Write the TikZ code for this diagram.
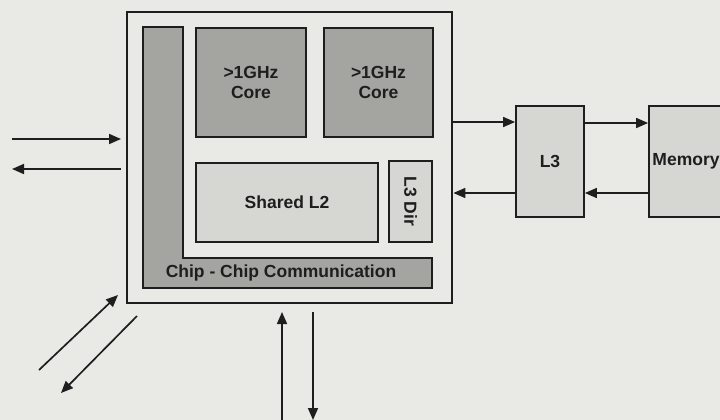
\documentclass[tikz,border=0pt]{standalone}
\usepackage{fontspec}
\setmainfont{Liberation Sans}
\usetikzlibrary{arrows.meta}
\definecolor{bg}{RGB}{233,233,229}
\definecolor{darkfill}{RGB}{164,164,160}
\definecolor{lightfill}{RGB}{214,214,210}
\definecolor{ink}{RGB}{30,30,30}
\begin{document}
\begin{tikzpicture}[x=1pt,y=-1pt,
  every node/.style={font=\fontsize{17.5}{20}\selectfont\bfseries, text=ink},
  box/.style={draw=ink, line width=1.8pt, inner sep=0pt, align=center},
  darkbox/.style={box, fill=darkfill},
  lightbox/.style={box, fill=lightfill},
  conn/.style={draw=ink, line width=1.7pt, -{Triangle[length=12pt,width=10pt]}}
]
\fill[bg] (0,0) rectangle (720,420);
\useasboundingbox (0,0) rectangle (720,420);
\clip (0,0) rectangle (720,420);
% chip outline
\node[box, line width=2.8pt, minimum width=325pt, minimum height=291pt] (chip) at (289.5,157.5) {};
% L-shaped chip-chip communication
\draw[ink, line width=1.8pt, fill=darkfill] (143,27) -- (183,27) -- (183,258) -- (432,258) -- (432,288) -- (143,288) -- cycle;
\node (cc) at (281,273) {Chip - Chip Communication};
% cores
\node[darkbox, minimum width=110pt, minimum height=109pt] (core1) at (251,82.5) {>1GHz\\Core};
\node[darkbox, minimum width=109pt, minimum height=109pt] (core2) at (378.5,82.5) {>1GHz\\Core};
\node[lightbox, minimum width=182pt, minimum height=79pt] (l2) at (287,202.5) {Shared L2};
\node[lightbox, minimum width=43pt, minimum height=81pt] (l3dir) at (410.5,201.5) {};
\node[rotate=-90] (l3dirtext) at (l3dir.center) {L3 Dir};
% L3 and memory
\node[lightbox, minimum width=68pt, minimum height=111pt] (l3) at (550,161.5) {L3};
\node[lightbox, minimum width=74pt, minimum height=111pt] (mem) at (686,161.5) {Memory};
% connectors right side
\draw[conn] (chip.east |- 0,122) -- (l3.west |- 0,122);
\draw[conn] (l3.west |- 0,193) -- (chip.east |- 0,193);
\draw[conn] (l3.east |- 0,123) -- (mem.west |- 0,123);
\draw[conn] (mem.west |- 0,193) -- (l3.east |- 0,193);
% left side
\coordinate (inA) at (12,139);
\coordinate (inAend) at (121,139);
\coordinate (outA) at (121,169);
\coordinate (outAend) at (12,169);
\draw[conn] (inA) -- (inAend);
\draw[conn] (outA) -- (outAend);
% diagonal
\coordinate (dA) at (39,370);
\coordinate (dAend) at (118,295);
\coordinate (dB) at (137,316);
\coordinate (dBend) at (61,393);
\draw[conn] (dA) -- (dAend);
\draw[conn] (dB) -- (dBend);
% bottom
\coordinate (bU) at (282,422);
\coordinate (bUend) at (282,312);
\coordinate (bD) at (313,312);
\coordinate (bDend) at (313,420);
\draw[conn] (bU) -- (bUend);
\draw[conn] (bD) -- (bDend);
\end{tikzpicture}
\end{document}
